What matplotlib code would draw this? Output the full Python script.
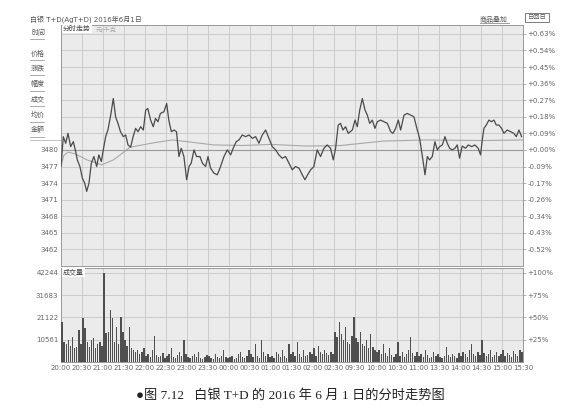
import matplotlib.pyplot as plt
from matplotlib.lines import Line2D
from matplotlib.patches import Rectangle

plt.rcParams['font.family'] = ['DejaVu Sans', 'Noto Sans CJK SC']

# ---------- data (minutes counted from 20:00, trading time only) ----------
price_t = [0, 3.3, 6.7, 10, 13.8, 17.6, 21, 23.3, 27, 30.5, 33.8, 36.7, 40, 43.3, 47, 51, 54, 57.6,
           60.4, 63.8, 67, 71, 74.7, 78, 81.4, 85, 89, 92.4, 95.7, 99.5, 103, 106.6, 110, 113.8,
           117.6, 121, 124, 128, 131.8, 135, 138.5, 142, 147, 151, 154, 157.6, 161.4, 165, 168.5,
           171.8, 175.6, 179.5, 183, 186, 190, 193.7, 198.5, 202, 206.6, 210, 213.7, 218.5,
           223.3, 228, 232.8, 237.6, 242.3, 247, 250.4, 254.2, 259, 263.7, 268.5, 273.3, 278,
           282.8, 287.5, 292.3, 297, 301.8, 306.6, 311.3, 316, 320.9, 325.6, 330.4, 335, 340,
           344.7, 348.5, 352.3, 356.6, 361.3, 366, 370.8, 375.6, 380.3, 385, 389, 392.3, 396,
           399.4, 402.7, 406.5, 410.3, 416.2, 420, 423.3, 426.7, 430.5, 434.3, 437.6, 441, 444.7,
           448.5, 451.9, 456.6, 461.4, 466.2, 471, 474.3, 478, 481.9, 485.2, 490, 494.7, 499.5,
           504.2, 509, 512.3, 515.2, 517, 520, 523.3, 526.6, 530.4, 534.2, 537.6, 540.9, 544.7,
           548.5, 551.8, 555.2, 559, 562.8, 566.1, 569.4, 573.2, 578, 581.8, 586.6, 591.3, 596,
           599.4, 601.8, 604.2, 607.5, 611.3, 615, 618.5, 621.8, 625.6, 629.4, 632.7, 637.5,
           642.3, 647, 650.4, 654.2, 658]
price_v = [3477.0, 3482.4, 3481.2, 3483.0, 3480.6, 3481.5, 3479.7, 3478.2, 3477.0, 3474.9, 3474.0,
           3472.5, 3474.0, 3477.6, 3478.8, 3477.0, 3479.1, 3477.9, 3480.0, 3482.4, 3483.6, 3486.3,
           3489.3, 3486.0, 3484.8, 3483.3, 3482.4, 3482.7, 3480.9, 3480.5, 3482.4, 3483.9, 3483.3,
           3484.2, 3483.6, 3487.2, 3487.5, 3485.4, 3484.2, 3485.7, 3485.1, 3486.6, 3486.9, 3488.4,
           3485.4, 3483.3, 3483.6, 3483.3, 3478.8, 3480.3, 3478.8, 3474.6, 3477.0, 3477.6, 3480.0,
           3478.8, 3478.8, 3477.6, 3477.0, 3478.8, 3476.7, 3475.8,
           3475.5, 3477.0, 3478.8, 3480.0, 3479.1, 3480.6, 3481.5, 3481.8, 3482.7, 3482.4, 3482.7,
           3482.1, 3482.4, 3481.2, 3482.7, 3483.6, 3482.1, 3480.6, 3480.0, 3479.1, 3478.5, 3478.8,
           3477.6, 3476.4, 3477.0, 3476.7, 3475.5, 3474.6, 3475.5, 3476.4, 3477.0, 3480.0, 3478.8,
           3480.3, 3480.9, 3480.3, 3478.2, 3480.3, 3484.5, 3484.8, 3483.6, 3484.2, 3483.0,
           3483.6, 3485.4, 3484.2, 3487.2, 3489.3, 3487.2, 3486.3, 3484.8, 3485.4, 3483.9, 3485.1,
           3485.4, 3485.1, 3484.8, 3483.3, 3483.0, 3483.9, 3485.4, 3483.6, 3486.3, 3486.6, 3486.3,
           3486.0, 3483.6, 3482.1, 3479.7, 3478.2, 3475.5, 3478.8, 3478.2, 3478.8, 3481.5, 3480.0,
           3480.6, 3480.9, 3482.4, 3481.2, 3480.3, 3480.0, 3480.3, 3480.9, 3478.5, 3480.7, 3480.3,
           3480.9, 3480.6, 3480.9, 3480.3, 3479.1, 3481.8, 3483.9, 3484.5, 3485.4, 3485.1, 3485.4,
           3484.5, 3484.5, 3483.9, 3483.0, 3483.6, 3483.3, 3483.0, 3482.4, 3483.6, 3482.4]

avg_t = [0, 4, 10, 20, 37, 58, 75, 99, 133, 159, 180, 218, 260, 300, 350, 400, 430, 460, 520, 600, 660]
avg_v = [3477.0, 3479.0, 3479.6, 3479.3, 3478.2, 3477.3, 3478.2, 3480.5, 3481.3, 3481.8, 3481.5,
         3480.9, 3480.8, 3481.0, 3480.7, 3480.8, 3481.2, 3481.6, 3481.8, 3481.7, 3481.8]

# volume, one value per 3 minutes
vol = [18800, 9400, 8460, 10340, 7520, 11750, 6580, 7050, 15040, 8460,
       20680, 15980, 9400, 7050, 10340, 11280, 6580, 8460, 9400, 7520,
       42244, 13630, 14100, 24440, 20680, 9400, 16450, 8460, 21150, 14100,
       10340, 7520, 16450, 6580, 5640, 4700, 5640, 3760, 4700, 6580,
       2820, 3760, 2350, 5640, 12220, 3290, 2350, 2820, 4230, 1880,
       2820, 3760, 6580, 2350, 1880, 3290, 4700, 2820, 10340, 3760,
       2350, 1880, 2820, 3760, 2350, 4700, 1880, 1410, 2350, 3290,
       2820, 1880, 1410, 3760, 2350, 1880, 2820, 5640, 2350, 1880,
       2350, 2820, 1410, 1880, 3760, 4700, 2350, 1880, 2820, 5640,
       3760, 2350, 8460, 2820, 1880, 10340, 4700, 2820, 3760, 2350,
       2820, 1880, 4700, 3760, 2350, 5640, 2820, 1880, 8460, 3760,
       4700, 2820, 9400, 3760, 2350, 5640, 2820, 3290, 4700, 3760,
       6580, 2820, 7520, 4700, 3760, 5640, 4230, 3290, 4700, 3760,
       14100, 11750, 18800, 13160, 10340, 16450, 9400, 8460, 12220, 21150,
       11280, 9400, 14100, 8460, 7520, 10340, 6580, 13160, 7050, 5640,
       4700, 5640, 3760, 8460, 4230, 2820, 6580, 3290, 2350, 3760,
       9400, 2820, 4700, 2350, 3760, 5640, 11750, 4230, 2820, 4700,
       2820, 3760, 2350, 5640, 3290, 1880, 2350, 4700, 2820, 3760,
       2350, 1880, 2820, 7050, 3290, 2350, 3760, 2820, 1880, 4230,
       2820, 4700, 3760, 2350, 5640, 8460, 3760, 2820, 4700, 3290,
       10340, 4230, 2820, 3760, 5640, 2350, 3290, 4700, 2820, 3760,
       5640, 2820, 4230, 3290, 2350, 5170, 3760, 2820, 5640, 4700]

pre_close = 3480
price_ticks = [3462, 3465, 3468, 3471, 3474, 3477, 3480, 3483, 3486, 3489, 3492, 3495, 3498, 3501]
left_labels = ['3462', '3465', '3468', '3471', '3474', '3477', '3480', '', '', '', '', '', '', '']
pct_labels = ['-0.52%', '-0.43%', '-0.34%', '-0.26%', '-0.17%', '-0.09%', '+0.00%',
              '+0.09%', '+0.18%', '+0.27%', '+0.36%', '+0.45%', '+0.54%', '+0.63%']
time_labels = ['20:00', '20:30', '21:00', '21:30', '22:00', '22:30', '23:00', '23:30', '00:00',
               '00:30', '01:00', '01:30', '02:00', '02:30', '09:30', '10:00', '10:30', '11:00',
               '13:30', '14:00', '14:30', '15:00', '15:30']
vol_ticks = [10561, 21122, 31683, 42244]
vol_pct = ['+25%', '+50%', '+75%', '+100%']
menu_items = ['时间', '价格', '涨跌', '幅度', '成交', '均价', '金额']

W, H = 584, 417
fig = plt.figure(figsize=(W / 100, H / 100), dpi=100)
fig.patch.set_facecolor('white')


def fx(x):
    return x / W


def fy(y):
    return 1 - y / H


panel_bg = '#ebebeb'
grid_c = '#c6c6c6'
txt_c = '#666666'

# ---------- price panel ----------
ax1 = fig.add_axes([fx(61), fy(266), fx(462), 241 / H])
ax1.set_facecolor(panel_bg)
ax1.plot(price_t, price_v, color='#4a4a4a', lw=0.9, zorder=3)
ax1.plot(avg_t, avg_v, color='#a8a8a8', lw=0.8, zorder=2)
ax1.axhline(pre_close, color='#999999', lw=0.8, zorder=2)
ax1.set_xlim(0, 660)
ax1.set_ylim(3459.0, 3502.6)
ax1.set_xticks(range(0, 661, 30))
ax1.set_xticklabels([])
ax1.set_yticks(price_ticks)
ax1.set_yticklabels(left_labels)
ax1.tick_params(length=0, labelsize=5, labelcolor=txt_c, pad=2)
ax1.grid(color=grid_c, lw=0.6)
for s in ax1.spines.values():
    s.set_color('#999999')
    s.set_linewidth(0.7)

ax1r = ax1.twinx()
ax1r.set_ylim(ax1.get_ylim())
ax1r.set_yticks(price_ticks)
ax1r.set_yticklabels(pct_labels)
ax1r.tick_params(length=2, width=0.5, color='#999999', labelsize=5, labelcolor=txt_c, pad=1)
for s in ax1r.spines.values():
    s.set_visible(False)

ax1.text(0.004, 0.995, '分时走势', transform=ax1.transAxes, ha='left', va='top',
         fontsize=5, color='#444444', zorder=5,
         bbox=dict(boxstyle='square,pad=0.15', fc='white', ec='none'))
ax1.text(0.075, 0.995, '元/千克', transform=ax1.transAxes, ha='left', va='top',
         fontsize=4.5, color='#aaaaaa', zorder=5)

# ---------- volume panel ----------
ax2 = fig.add_axes([fx(61), fy(362), fx(462), 94 / H])
ax2.set_facecolor(panel_bg)
vol_x = [i * 3 + 1.5 for i in range(len(vol))]
ax2.bar(vol_x, vol, width=1.9, color='#4f4f4f', linewidth=0, zorder=3)
ax2.set_xlim(0, 660)
ax2.set_ylim(0, 44500)
ax2.set_xticks(range(0, 661, 30))
ax2.set_xticklabels(time_labels)
ax2.set_yticks(vol_ticks)
ax2.set_yticklabels([str(v) for v in vol_ticks])
ax2.tick_params(length=0, labelsize=5, labelcolor=txt_c, pad=2)
ax2.grid(color=grid_c, lw=0.6)
for s in ax2.spines.values():
    s.set_color('#999999')
    s.set_linewidth(0.7)

ax2r = ax2.twinx()
ax2r.set_ylim(ax2.get_ylim())
ax2r.set_yticks(vol_ticks)
ax2r.set_yticklabels(vol_pct)
ax2r.tick_params(length=2, width=0.5, color='#999999', labelsize=5, labelcolor=txt_c, pad=1)
for s in ax2r.spines.values():
    s.set_visible(False)

ax2.text(0.004, 0.99, '成交量', transform=ax2.transAxes, ha='left', va='top',
         fontsize=5, color='#444444', zorder=5,
         bbox=dict(boxstyle='square,pad=0.15', fc='white', ec='none'))

# ---------- header and left menu ----------
fig.text(fx(30), fy(19), '白银 T+D(AgT+D) 2016年6月1日', fontsize=5, color='#555555', va='center')
fig.text(fx(480), fy(19), '商品叠加', fontsize=5, color='#555555', va='center')
fig.add_artist(Line2D([fx(480), fx(509)], [fy(23), fy(23)], color='#777777', lw=0.5))
fig.add_artist(Rectangle((fx(525), fy(22)), fx(24), 9 / H, fill=False, ec='#666666', lw=0.6))
fig.text(fx(537), fy(17.5), '日回日', fontsize=4.5, color='#555555', ha='center', va='center')

for k, item in enumerate(menu_items):
    yy = 32 + k * 15.5 if k == 0 else 53 + (k - 1) * 15.4
    fig.text(fx(31), fy(yy), item, fontsize=5, color='#555555', va='center')
    fig.add_artist(Line2D([fx(30), fx(44)], [fy(yy + 7), fy(yy + 7)], color='#888888', lw=0.5))
fig.add_artist(Line2D([fx(30), fx(61)], [fy(140), fy(140)], color='#aaaaaa', lw=0.5))

# ---------- caption ----------
fig.text(0.497, fy(395), '●图 7.12   白银 T+D 的 2016 年 6 月 1 日的分时走势图',
         fontsize=9.5, color='#222222', ha='center', va='center',
         family=['Liberation Serif', 'Noto Sans CJK SC'])

fig.savefig('out.png', dpi=100)
